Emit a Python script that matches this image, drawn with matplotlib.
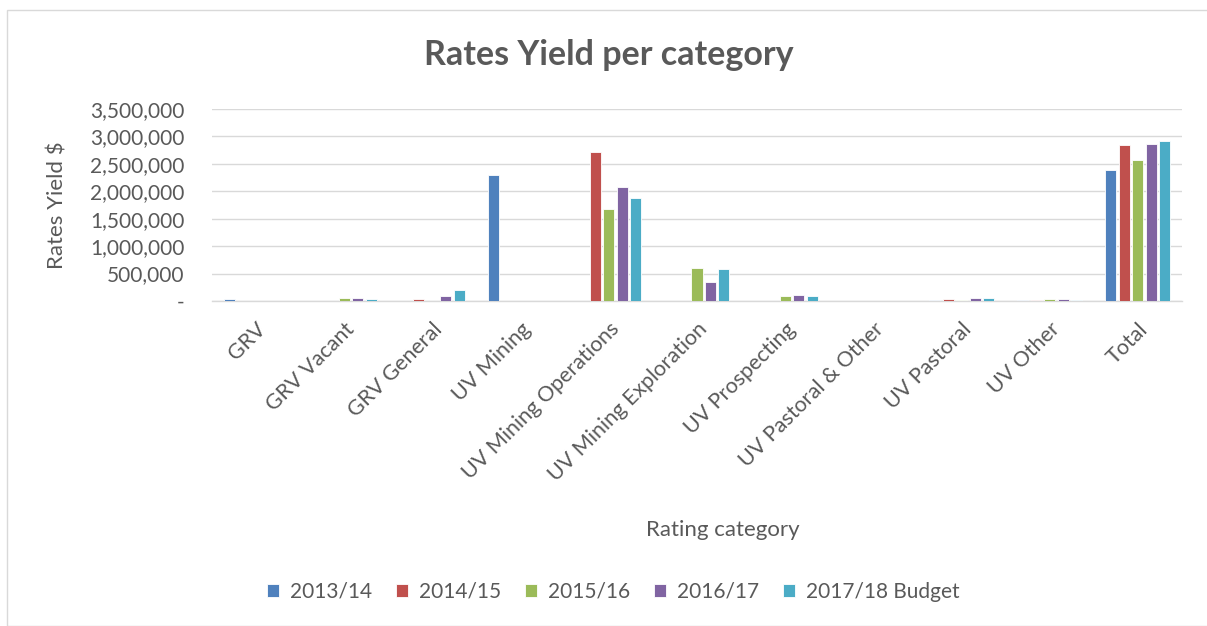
import matplotlib

matplotlib.use("Agg")
import matplotlib.pyplot as plt
import numpy as np
from matplotlib.patches import Rectangle
from matplotlib.ticker import FuncFormatter

plt.rcParams["font.family"] = ["Lato", "DejaVu Sans"]

categories = [
    "GRV", "GRV Vacant", "GRV General", "UV Mining", "UV Mining Operations",
    "UV Mining Exploration", "UV Prospecting", "UV Pastoral & Other",
    "UV Pastoral", "UV Other", "Total",
]
series_names = ["2013/14", "2014/15", "2015/16", "2016/17", "2017/18 Budget"]

y_2013 = [40000, 0, 0, 2290000, 0, 0, 0, 0, 25000, 25000, 2385000]
y_2014 = [0, 0, 45000, 0, 2720000, 0, 0, 0, 40000, 25000, 2845000]
y_2015 = [0, 55000, 0, 0, 1675000, 610000, 97000, 0, 25000, 30000, 2570000]
y_2016 = [0, 50000, 100000, 0, 2085000, 352000, 104000, 0, 55000, 40000, 2862000]
y_2017 = [0, 35000, 205000, 0, 1872000, 585000, 86000, 0, 55000, 20000, 2917000]

series = [y_2013, y_2014, y_2015, y_2016, y_2017]
colors = ["#4F81BD", "#C0504D", "#9BBB59", "#8064A2", "#4BACC6"]
text_color = "#595959"

fig = plt.figure(figsize=(12.07, 6.26), dpi=100)
fig.patches.append(Rectangle((7 / 1207, 0), 1, 1 - 10 / 626, transform=fig.transFigure,
                             fill=False, edgecolor="#D9D9D9", linewidth=1))

ax = fig.add_axes([212 / 1207, 1 - 301 / 626, 970 / 1207, 192 / 626])

x = np.arange(len(categories))
pitch = 0.153
width = 0.125
for i, (name, vals, c) in enumerate(zip(series_names, series, colors)):
    ax.bar(x + (i - 2) * pitch, vals, width=width, color=c, edgecolor="white",
           linewidth=0.6, label=name, zorder=3)

ax.set_xlim(-0.5, len(categories) - 0.5)
ax.set_ylim(0, 3500000)
ax.set_yticks(np.arange(0, 3500001, 500000))
ax.yaxis.set_major_formatter(FuncFormatter(lambda v, p: "-" if v == 0 else f"{int(v):,}"))
ax.grid(axis="y", color="#D9D9D9", linewidth=1, zorder=0)
for s in ["top", "right", "left"]:
    ax.spines[s].set_visible(False)
ax.spines["bottom"].set_color("#D9D9D9")
ax.spines["bottom"].set_linewidth(1)
ax.tick_params(axis="both", length=0, colors=text_color, labelsize=15)
ax.tick_params(axis="y", pad=20)

ax.set_xticks(x)
ax.set_xticklabels(categories, rotation=45, ha="right", rotation_mode="anchor",
                   fontsize=15.5)
ax.tick_params(axis="x", pad=13)

ax.set_ylabel("Rates Yield $", fontsize=16, color=text_color, labelpad=16)
fig.text(723 / 1207, 1 - 530 / 626, "Rating category", fontsize=16, color=text_color,
         ha="center", va="center")
fig.text(609 / 1207, 1 - 55 / 626, "Rates Yield per category", fontsize=24.5,
         fontweight="bold", color=text_color, ha="center", va="center")

leg = fig.legend(loc="center", bbox_to_anchor=(613 / 1207, 1 - 592 / 626), ncol=5,
                 frameon=False, fontsize=15, handlelength=0.6, handleheight=0.6,
                 columnspacing=1.15, handletextpad=0.5)
for t in leg.get_texts():
    t.set_color(text_color)

fig.savefig("out.png", dpi=100)
